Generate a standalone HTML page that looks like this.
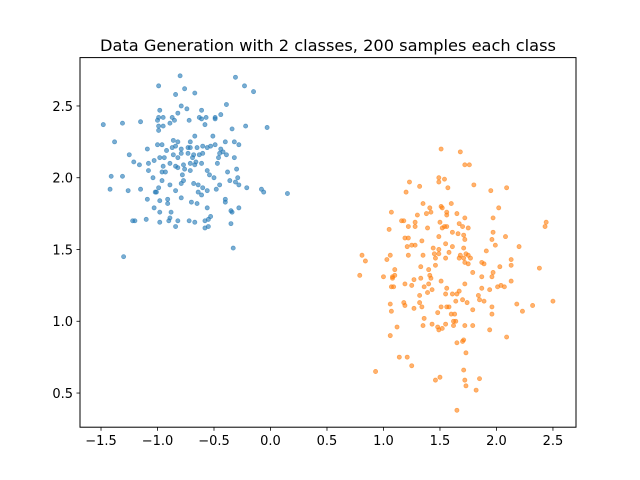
<!DOCTYPE html>
<html><head><meta charset="utf-8"><style>
body{margin:0;background:#fff;}
svg{display:block;font-family:"DejaVu Sans","Liberation Sans",sans-serif;}
</style></head><body>
<svg id="chart" width="640" height="480" viewBox="0 0 640 480">
<rect x="0" y="0" width="640" height="480" fill="#fff"/>
<text x="328" y="51" text-anchor="middle" font-size="16.2" fill="#000">Data Generation with 2 classes, 200 samples each class</text>
<g id="pts"></g>
<rect x="80" y="57.6" width="496" height="369.6" fill="none" stroke="#000" stroke-width="1"/>
<g id="axes"></g>
</svg>
<script>
const xTicks=[-1.5,-1.0,-0.5,0.0,0.5,1.0,1.5,2.0,2.5];
const xTickLabels=["−1.5","−1.0","−0.5","0.0","0.5","1.0","1.5","2.0","2.5"];
const yTicks=[0.5,1.0,1.5,2.0,2.5];
const yTickLabels=["0.5","1.0","1.5","2.0","2.5"];
const class0X=[-0.80,-0.31,-0.99,-0.23,-0.76,-0.15,-0.84,-0.67,-0.39,-0.79,-0.74,-0.98,-0.61,-0.82,-0.44,-0.95,-0.87,-0.49,-0.63,-0.57,-0.99,-1.00,-0.85,-0.89,-0.72,-0.61,-0.49,-0.58,-1.48,-1.31,-1.15,-0.99,-0.95,-0.99,-0.34,-0.22,-0.03,-0.67,-0.51,-1.38,-0.86,-0.82,-0.40,-0.32,-0.28,-1.00,-0.96,-0.71,-1.09,-0.87,-0.84,-0.79,-0.73,-0.71,-0.65,-0.60,-0.56,-0.53,-0.49,-0.44,-0.42,-0.39,-0.45,-1.25,-0.92,-0.86,-0.79,-0.73,-0.68,-0.63,-0.60,-0.32,-1.21,-1.16,-1.08,-1.03,-0.98,-0.94,-0.82,-0.69,-0.66,-0.46,-0.89,-0.84,-0.82,-0.77,-0.71,-0.67,-0.61,-0.47,-0.95,-1.08,-0.96,-0.93,-0.76,-0.71,-0.56,-0.30,-0.38,-1.41,-1.31,-1.04,-0.78,-0.54,-0.50,-0.29,-0.36,-0.96,-0.77,-0.79,-0.68,-0.64,-0.60,-0.56,-0.48,-0.45,-0.31,-0.28,-0.21,-0.08,-0.06,0.15,-0.89,-0.99,-1.01,-1.02,-1.15,-1.26,-1.42,-0.84,-0.64,-0.61,-0.79,-1.09,-0.98,-0.91,-0.91,-0.70,-0.65,-0.40,-0.40,-1.03,-0.56,-0.35,-0.34,-0.28,-0.98,-0.88,-0.53,-0.55,-0.58,-0.89,-0.90,-1.22,-1.20,-1.10,-0.98,-0.82,-0.72,-0.67,-0.35,-0.84,-0.58,-0.55,-0.33,-1.30];
const class0Y=[2.71,2.70,2.64,2.64,2.62,2.60,2.58,2.59,2.51,2.50,2.48,2.47,2.47,2.45,2.44,2.42,2.42,2.42,2.42,2.42,2.42,2.40,2.40,2.38,2.40,2.41,2.41,2.37,2.37,2.38,2.39,2.36,2.36,2.33,2.34,2.36,2.35,2.29,2.29,2.25,2.26,2.25,2.25,2.25,2.23,2.23,2.23,2.25,2.20,2.21,2.22,2.20,2.21,2.21,2.21,2.22,2.21,2.22,2.23,2.20,2.18,2.16,2.17,2.16,2.19,2.16,2.17,2.17,2.16,2.16,2.17,2.14,2.11,2.09,2.10,2.12,2.14,2.14,2.14,2.14,2.11,2.14,2.10,2.08,2.07,2.09,2.10,2.09,2.10,2.10,2.08,2.05,2.04,2.04,2.06,2.05,2.05,2.06,2.04,2.01,2.01,2.00,2.02,2.02,2.00,2.00,1.98,1.98,1.98,1.96,1.96,1.95,1.93,1.91,1.92,1.95,1.97,1.95,1.93,1.92,1.90,1.89,1.95,1.93,1.90,1.90,1.92,1.91,1.92,1.91,1.90,1.88,1.86,1.85,1.84,1.85,1.82,1.83,1.82,1.85,1.83,1.79,1.79,1.77,1.76,1.79,1.76,1.76,1.73,1.71,1.70,1.72,1.70,1.70,1.70,1.71,1.69,1.70,1.70,1.69,1.68,1.66,1.65,1.66,1.51,1.45];
const class1X=[1.51,1.68,1.72,1.76,1.49,1.49,1.54,1.23,1.57,1.32,1.20,1.80,1.95,2.09,1.35,1.51,1.52,1.60,1.41,1.07,2.02,1.30,1.38,1.42,1.56,1.56,1.65,1.72,1.97,1.16,1.18,1.28,1.50,1.54,1.56,1.52,1.67,1.70,1.75,1.22,1.28,1.05,1.39,1.61,1.66,1.71,1.97,2.44,2.43,1.19,1.22,1.34,1.49,1.72,1.96,2.08,1.25,1.28,1.21,1.55,1.61,1.44,1.99,2.20,1.49,1.71,0.81,1.06,1.22,1.35,1.45,1.49,1.58,1.68,1.73,1.75,1.71,1.77,1.91,1.46,1.55,1.67,0.84,1.03,1.72,1.75,1.87,1.89,2.13,2.13,1.46,1.33,2.03,2.38,1.10,1.40,1.79,1.97,0.79,1.00,1.08,1.10,1.08,1.33,1.27,1.42,1.41,1.87,1.96,1.51,1.19,1.25,1.40,1.36,1.72,2.01,2.04,2.07,2.13,1.07,1.09,1.56,1.87,1.94,1.43,1.39,1.32,1.55,1.61,1.65,1.67,1.84,1.85,1.70,1.74,1.64,1.89,1.06,1.18,1.19,1.32,1.34,1.27,1.51,1.56,1.58,1.96,2.18,2.32,2.50,1.07,1.48,1.60,1.63,1.79,2.23,1.96,1.36,1.62,1.64,1.35,1.43,1.48,1.55,1.52,1.62,1.72,1.79,1.49,1.12,1.94,1.06,2.09,1.71,1.70,1.65,1.73,1.14,1.21,1.25,0.93,1.71,1.46,1.50,1.72,1.85,1.73,1.82,1.65];
const class1Y=[2.20,2.18,2.09,2.09,2.00,1.97,1.99,1.97,1.93,1.94,1.90,1.95,1.91,1.93,1.82,1.80,1.79,1.82,1.79,1.76,1.79,1.74,1.75,1.76,1.76,1.74,1.75,1.72,1.72,1.70,1.70,1.69,1.69,1.66,1.66,1.65,1.68,1.66,1.65,1.66,1.66,1.64,1.65,1.62,1.61,1.60,1.62,1.69,1.66,1.58,1.58,1.56,1.59,1.57,1.57,1.59,1.53,1.53,1.52,1.54,1.52,1.51,1.53,1.52,1.50,1.51,1.46,1.46,1.46,1.46,1.47,1.47,1.48,1.46,1.47,1.46,1.44,1.44,1.49,1.44,1.44,1.44,1.42,1.43,1.41,1.40,1.41,1.40,1.43,1.39,1.39,1.38,1.38,1.37,1.36,1.36,1.34,1.34,1.32,1.31,1.31,1.32,1.30,1.30,1.29,1.30,1.32,1.31,1.31,1.28,1.26,1.25,1.26,1.24,1.26,1.24,1.25,1.24,1.28,1.24,1.24,1.23,1.23,1.22,1.22,1.20,1.18,1.19,1.19,1.19,1.21,1.18,1.15,1.15,1.13,1.14,1.14,1.12,1.13,1.11,1.13,1.10,1.09,1.10,1.10,1.10,1.10,1.12,1.11,1.14,1.07,1.06,1.05,1.05,1.08,1.07,1.05,1.02,1.00,1.00,0.97,0.98,0.96,0.98,0.95,0.97,0.97,0.97,0.94,0.96,0.94,0.90,0.89,0.87,0.86,0.85,0.78,0.75,0.75,0.69,0.65,0.66,0.59,0.61,0.59,0.60,0.55,0.52,0.38];

const L=80,R=576,T=57.6,B=427.2;
const xMin=-1.686,xMax=2.704,yMin=0.262,yMax=2.837;
function sx(v){return L+(v-xMin)/(xMax-xMin)*(R-L);}
function sy(v){return B-(v-yMin)/(yMax-yMin)*(B-T);}
const NS="http://www.w3.org/2000/svg";
const pts=document.getElementById('pts');
function drawSeries(xs,ys,color,name){
  for(let i=0;i<xs.length;i++){
    const c=document.createElementNS(NS,'circle');
    c.setAttribute('cx',sx(xs[i]));
    c.setAttribute('cy',sy(ys[i]));
    c.setAttribute('r',2.1);
    c.setAttribute('fill',color);
    c.setAttribute('fill-opacity',0.6);
    c.setAttribute('stroke',color);
    c.setAttribute('stroke-opacity',0.6);
    c.setAttribute('stroke-width',0.7);
    
    
    pts.appendChild(c);
  }
}
drawSeries(class0X,class0Y,'#1f77b4','class-0-point');
drawSeries(class1X,class1Y,'#ff7f0e','class-1-point');
const ax=document.getElementById('axes');
xTicks.forEach((v,i)=>{
  const x=sx(v);
  const ln=document.createElementNS(NS,'line');
  ln.setAttribute('x1',x);ln.setAttribute('x2',x);ln.setAttribute('y1',B);ln.setAttribute('y2',B+3.5);
  ln.setAttribute('stroke','#000');ln.setAttribute('stroke-width',0.8);
  
  
  ax.appendChild(ln);
  const t=document.createElementNS(NS,'text');
  t.setAttribute('x',x);t.setAttribute('y',B+18);t.setAttribute('text-anchor','middle');
  t.setAttribute('font-size','13');t.textContent=xTickLabels[i];
  
  
  ax.appendChild(t);
});
yTicks.forEach((v,i)=>{
  const y=sy(v);
  const ln=document.createElementNS(NS,'line');
  ln.setAttribute('x1',L-3.5);ln.setAttribute('x2',L);ln.setAttribute('y1',y);ln.setAttribute('y2',y);
  ln.setAttribute('stroke','#000');ln.setAttribute('stroke-width',0.8);
  
  
  ax.appendChild(ln);
  const t=document.createElementNS(NS,'text');
  t.setAttribute('x',L-7);t.setAttribute('y',y+4.8);t.setAttribute('text-anchor','end');
  t.setAttribute('font-size','13');t.textContent=yTickLabels[i];
  
  
  ax.appendChild(t);
});
</script>
</body></html>
